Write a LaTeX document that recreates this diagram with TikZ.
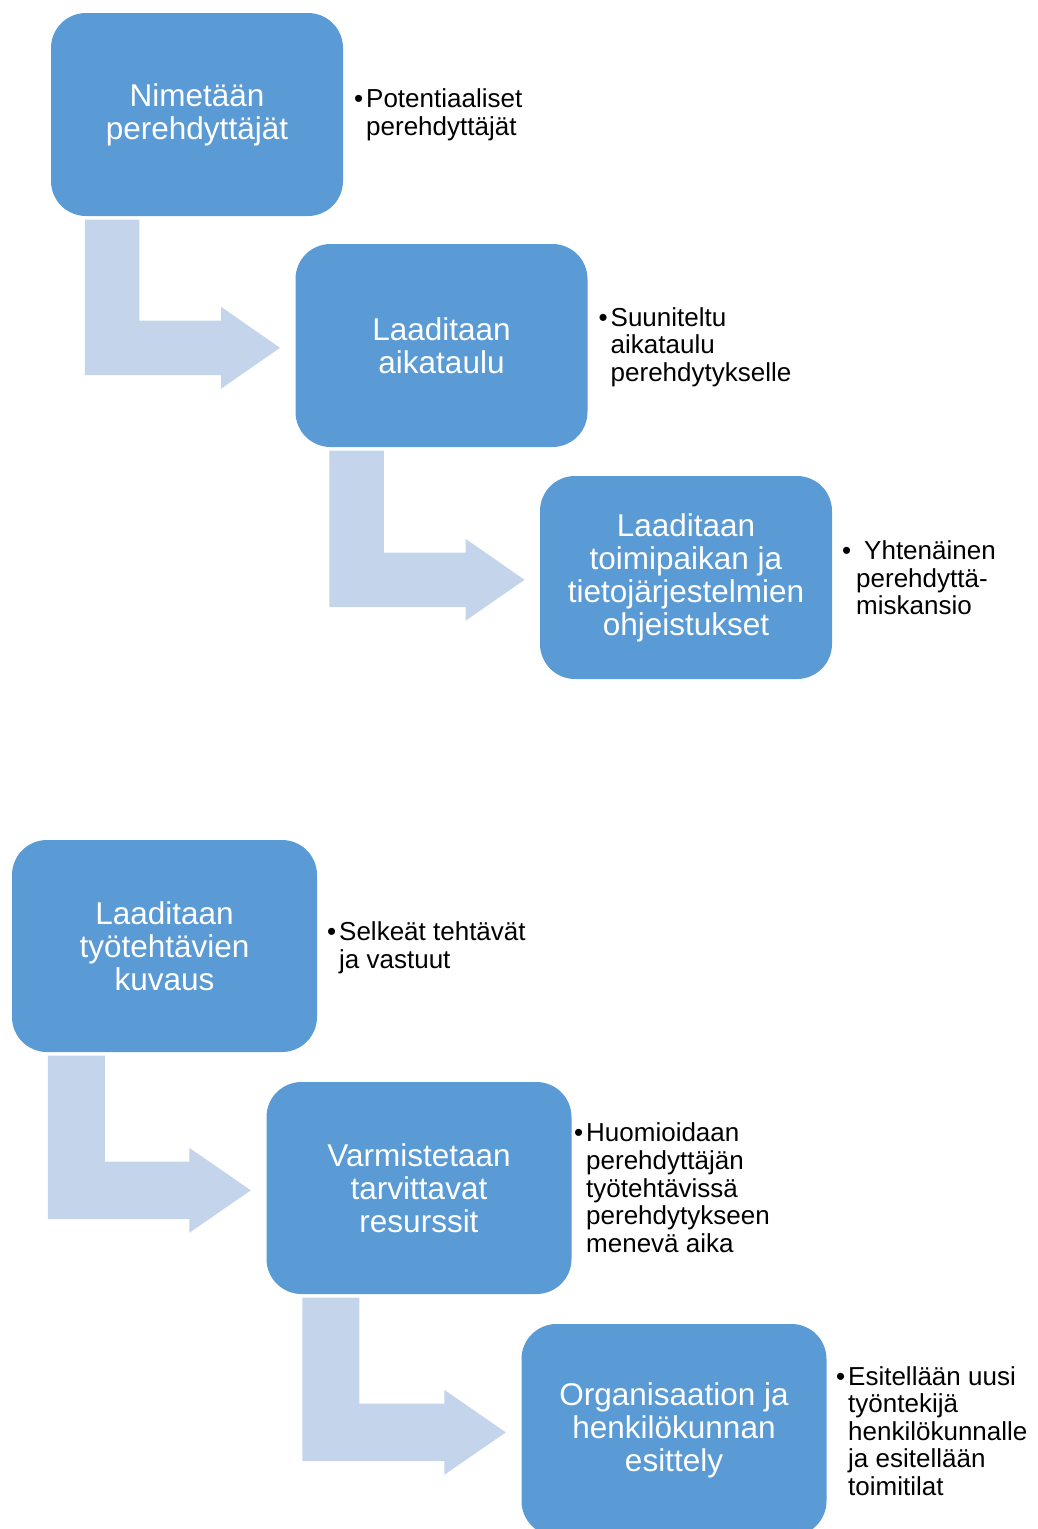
\documentclass[tikz,border=0pt]{standalone}
\usepackage{fontspec}
\setmainfont{Liberation Sans}
\usetikzlibrary{calc}

\definecolor{boxblue}{HTML}{5B9BD5}
\definecolor{arrowblue}{HTML}{C4D5EB}

% Elbow arrow: leaves the bottom of #1, bends right and points at the west side of #2.
% #3 stem offset, #4 stem width, #5 shaft half width, #6 head length, #7 head half height, #8 gap before target
\newcommand{\elbowarrow}[8]{%
  \fill[arrowblue] let \p1=(#1.south west), \p2=(#2.west) in
    (\x1+#3, \y1-3.5) -- (\x1+#3+#4, \y1-3.5)
    -- (\x1+#3+#4, \y2-2.3+#5) -- (\x2-#8-#6, \y2-2.3+#5)
    -- (\x2-#8-#6, \y2-2.3+#7) -- (\x2-#8, \y2-2.3)
    -- (\x2-#8-#6, \y2-2.3-#7) -- (\x2-#8-#6, \y2-2.3-#5)
    -- (\x1+#3, \y2-2.3-#5) -- cycle;}

\begin{document}
\begin{tikzpicture}[x=1pt, y=-1pt,
  stepbox/.style={fill=boxblue, draw=none, rounded corners=35pt, text=white,
    align=center, font=\fontsize{31.5}{33}\selectfont, inner sep=0pt},
  topbox/.style={stepbox, minimum width=292pt, minimum height=203pt},
  lowbox/.style={stepbox, minimum width=305pt, minimum height=212pt},
  note/.style={anchor=north west, align=left, inner sep=0pt, text=black,
    font=\fontsize{26}{27.6}\selectfont}]
\useasboundingbox (0,0) rectangle (1038,1529);
\fill[white] (0,0) rectangle (1038,1529);

% upper sequence
\node[topbox] (b1) at (197,114.5) {Nimetään\\perehdyttäjät};
\node[topbox] (b2) at (441.5,345.5) {Laaditaan\\aikataulu};
\node[topbox] (b3) at (686,577.5) {Laaditaan\\toimipaikan ja\\tietojärjestelmien\\ohjeistukset};

\elbowarrow{b1}{b2}{34}{54.5}{27.2}{59}{41}{15.3}
\elbowarrow{b2}{b3}{34}{54.5}{27.2}{59}{41}{15.3}

\node[note] (n1) at (366,88) {\strut\llap{•\hspace{3pt}}Potentiaaliset\\perehdyttäjät};
\node[note] (n2) at (610.5,306.7) {\strut\llap{•\hspace{3pt}}Suuniteltu\\aikataulu\\perehdytykselle};
\node[note] (n3) at (856,540) {\strut\llap{•\hspace{5pt}}\hspace{8pt}Yhtenäinen\\perehdyttä-\\miskansio};

% lower sequence
\node[lowbox] (b4) at (164.5,946) {Laaditaan\\työtehtävien\\kuvaus};
\node[lowbox] (b5) at (419,1188) {Varmistetaan\\tarvittavat\\resurssit};
\node[lowbox] (b6) at (674,1430) {Organisaation ja\\henkilökunnan\\esittely};

\elbowarrow{b4}{b5}{36}{57}{28.7}{61.5}{42.5}{15.5}
\elbowarrow{b5}{b6}{36}{57}{28.7}{61.5}{42.5}{15.5}

\node[note] (n4) at (339,921.4) {\strut\llap{•\hspace{3pt}}Selkeät tehtävät\\ja vastuut};
\node[note] (n5) at (586,1122.4) {\strut\llap{•\hspace{3pt}}Huomioidaan\\perehdyttäjän\\työtehtävissä\\perehdytykseen\\menevä aika};
\node[note] (n6) at (848,1365.5) {\strut\llap{•\hspace{3pt}}Esitellään uusi\\työntekijä\\henkilökunnalle\\ja esitellään\\toimitilat};
\end{tikzpicture}
\end{document}
